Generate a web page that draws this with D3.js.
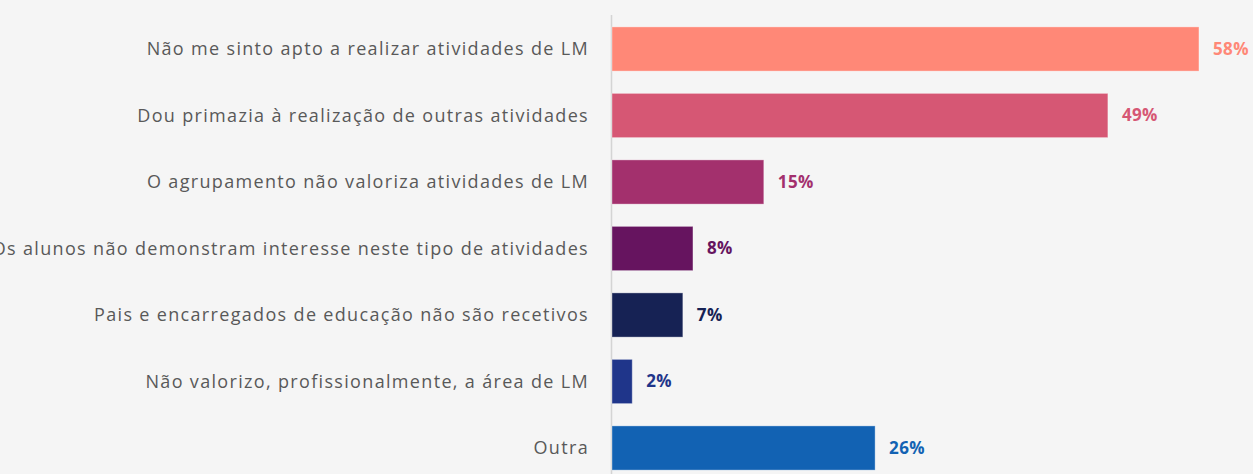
<!DOCTYPE html>
<html lang="pt">
<head>
    <meta charset="UTF-8">
    <title>Motivos</title>
    <script src="https://d3js.org/d3.v7.min.js"></script>
    <style>
        body {
            margin: 0;
            padding: 0;
            background: #f5f5f5;
            overflow: hidden;
        }
    </style>
</head>
<body>
<svg id="chart" width="1253" height="474"></svg>
<script>
    var categories = [
        'Não me sinto apto a realizar atividades de LM',
        'Dou primazia à realização de outras atividades',
        'O agrupamento não valoriza atividades de LM',
        'Os alunos não demonstram interesse neste tipo de atividades',
        'Pais e encarregados de educação não são recetivos',
        'Não valorizo, profissionalmente, a área de LM',
        'Outra'
    ];
    var values = [58, 49, 15, 8, 7, 2, 26];
    var colors = ['#ff8877', '#d65774', '#a3306d', '#66145f', '#162254', '#1f358a', '#1262b3'];

    (function () {
        var svg = d3.select('#chart');
        var x0 = 612, pxPerPct = 10.12;

        var x = d3.scaleLinear().domain([0, 100]).range([x0, x0 + 100 * pxPerPct]);
        var y = d3.scaleBand().domain(categories).range([15.75, 481.25]).paddingInner(0.335).paddingOuter(0.1675);

        // axis line
        svg.append('line')
            .attr('x1', x0 - 0.5).attr('x2', x0 - 0.5)
            .attr('y1', 15).attr('y2', 474)
            .attr('stroke', '#d4d4d4').attr('stroke-width', 1.5);

        var rows = svg.selectAll('g.row')
            .data(categories)
            .enter().append('g').attr('class', 'row');

        rows.append('rect')
            .attr('x', x(0))
            .attr('y', function (d) { return y(d); })
            .attr('width', function (d, i) { return x(values[i]) - x(0); })
            .attr('height', y.bandwidth())
            .attr('fill', function (d, i) { return colors[i]; })
            .attr('stroke', 'rgba(255,255,255,0.35)')
            .attr('stroke-width', 1);

        rows.append('text')
            .attr('x', x0 - 23)
            .attr('y', function (d) { return y(d) + y.bandwidth() / 2; })
            .attr('dy', '0.35em')
            .attr('text-anchor', 'end')
            .attr('font-family', 'Open Sans, sans-serif')
            .attr('font-size', '18px')
            .attr('letter-spacing', '1.33px')
            .attr('fill', '#595959')
            .text(function (d) { return d; });

        rows.append('text')
            .attr('x', function (d, i) { return x(values[i]) + 14; })
            .attr('y', function (d) { return y(d) + y.bandwidth() / 2; })
            .attr('dy', '0.35em')
            .attr('font-family', 'Open Sans, sans-serif')
            .attr('font-weight', 'bold')
            .attr('font-size', '17px')
            .attr('letter-spacing', '0.4px')
            .attr('fill', function (d, i) { return colors[i]; })
            .text(function (d, i) { return values[i] + '%'; });
    })();
</script>
</body>
</html>
